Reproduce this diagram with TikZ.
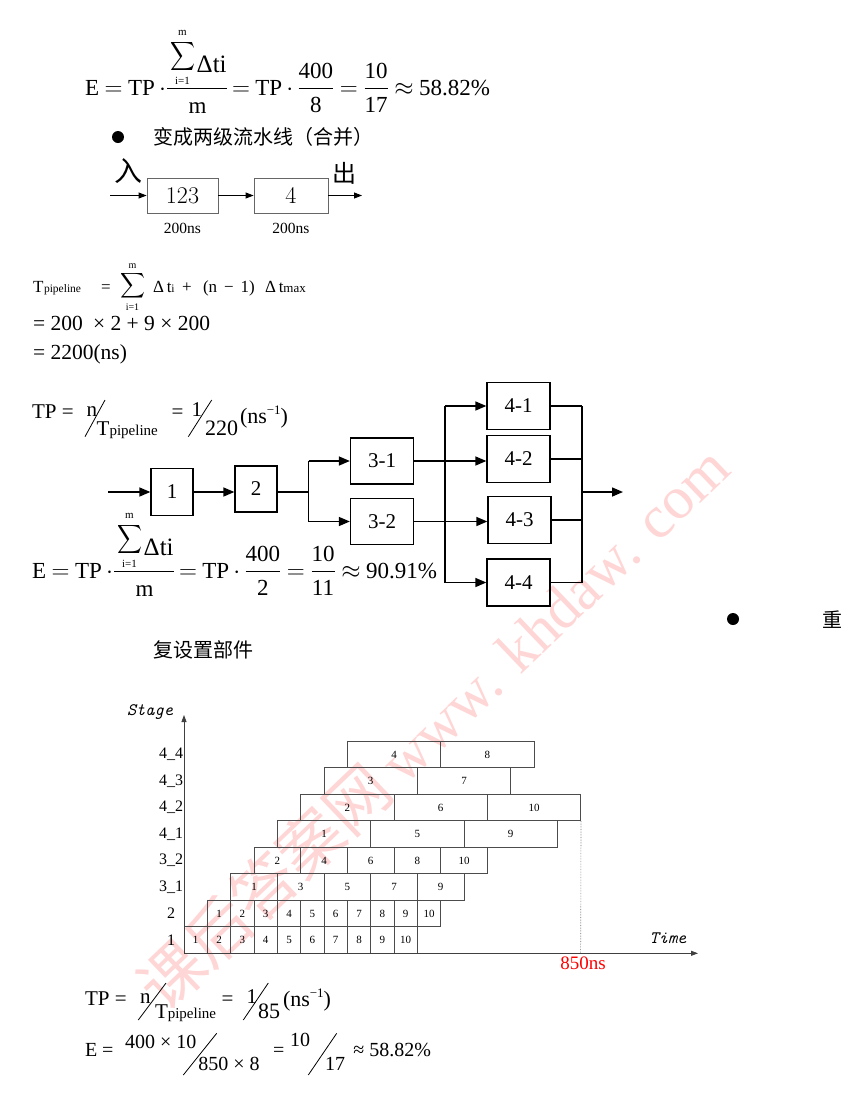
\documentclass[tikz,border=0pt]{standalone}
\usepackage{amsmath}
\usepackage{exscale}
\usepackage{graphicx}
\usepackage{fontspec}
\setmainfont{Liberation Serif}
\newfontfamily\cjk{Noto Sans CJK SC}
\usetikzlibrary{arrows.meta,positioning,calc}

\newcommand{\fsz}[1]{\fontsize{#1}{#1}\selectfont}
\newcommand{\lmdigits}{\fontfamily{lmr}\selectfont}
\newcommand{\ttslant}{\fontfamily{lmtt}\itshape}
\newcommand{\tightmath}{\thickmuskip=4mu\medmuskip=3mu}
\newcommand{\bigsigma}[2]{\resizebox*{#1}{#2}{$\displaystyle\sum$}}

\tikzset{
  formula/.style={anchor=base west, inner sep=0pt, outer sep=0pt},
  effform/.style={formula, font=\fsz{23}\tightmath},
  tlform/.style={formula, font=\fsz{17}},
  tlsmall/.style={formula, font=\fsz{11.5}},
  tform/.style={formula, font=\fsz{21.5}},
  tpform/.style={formula, font=\fsz{21}},
  limtxt/.style={inner sep=0pt, font=\fsz{11}},
  slashline/.style={line width=0.8pt},
  fracbar/.style={line width=0.8pt},
  cjktext/.style={anchor=west, inner sep=0pt, font=\cjk\fsz{20}},
  bulletdot/.style={circle, fill, inner sep=0pt, minimum size=12pt},
  twobox/.style={draw=black!60, line width=0.8pt, minimum height=35pt, inner sep=0pt, font=\lmdigits\fsz{24}},
  nslbl/.style={inner sep=0pt, font=\fsz{15.5}},
  thinarrow/.style={line width=0.9pt, -{Triangle[length=8pt,width=6pt]}},
  pipebox/.style={draw, line width=1.3pt, inner sep=0pt, minimum width=63pt, minimum height=47pt, font=\fsz{21}},
  busline/.style={line width=1.5pt},
  busarrow/.style={busline, -{Triangle[length=11pt,width=9pt]}},
  slot/.style={draw=black!70, line width=0.7pt, inner sep=0pt, minimum height=26.5pt, font=\fsz{11}},
  stagelbl/.style={inner sep=0pt, font=\fsz{16}},
  axisline/.style={draw=black!75, line width=0.8pt, -{Triangle[length=7pt,width=5pt]}},
  axislbl/.style={inner sep=0pt, font=\ttslant\fsz{17.5}},
  watermark/.style={anchor=base west, inner sep=0pt, text=red!16, font=\cjk\fsz{64}}
}

\begin{document}
\begin{tikzpicture}[x=1pt, y=-1pt, >=Stealth]

\useasboundingbox[fill=white] (0,0) rectangle (856,1098);

% ---------------------------------------------------------------------------
% Watermark (behind everything)
% ---------------------------------------------------------------------------
\node[watermark, rotate=43.7] (wmark) at (165,1015)
  {课后答案网\,{\rmfamily\fsz{60}www. khdaw. com}};

% ---------------------------------------------------------------------------
% Efficiency, four stages
% ---------------------------------------------------------------------------
\begin{scope}[shift={(85,95)}]
  \node[effform] (effTopE) at (0,0) {$\text{E} = \text{TP}\cdot{}$};
  \node[inner sep=0pt] (effTopSig) at (97.5,-39) {\bigsigma{25pt}{32pt}};
  \node[limtxt] (effTopUp) at (97.5,-62) {m};
  \node[limtxt] (effTopLo) at (97.5,-14) {i=1};
  \node[formula, font=\fsz{25}] (effTopNum) at (111.7,-23) {Δti};
  \draw[fracbar] (82,-7) -- (142,-7);
  \node[inner sep=0pt, anchor=base, font=\fsz{23}] (effTopDen) at (112.5,18) {m};
  \node[effform] (effTopR) at (147,0)
    {$= \text{TP}\cdot\dfrac{\text{400}}{\text{8}} = \dfrac{\text{10}}{\text{17}} \approx \text{58.82\%}$};
\end{scope}

\node[bulletdot] (bulA) at (118,137) {};
\node[cjktext] (mergeTxt) at (153,137) {变成两级流水线（合并）};

% ---------------------------------------------------------------------------
% Two-stage pipeline
% ---------------------------------------------------------------------------
\node[twobox, minimum width=71pt] (sgA) at (182.5,195.5) {123};
\node[twobox, minimum width=74pt] (sgB) at (291,195.5) {4};
\coordinate (inA) at (110,195.5);
\coordinate (outA) at (362,195.5);
\draw[thinarrow] (inA) -- (sgA);
\draw[thinarrow] (sgA) -- (sgB);
\draw[thinarrow] (sgB) -- (outA);
\node[nslbl, below=10pt of sgA] (nsA) {200ns};
\node[nslbl, below=10pt of sgB] (nsB) {200ns};
\node[inner sep=0pt, font=\cjk\fsz{28}] (ruTxt) at (128.5,171.5) {入};
\node[inner sep=0pt, font=\cjk\fsz{24}] (chuTxt) at (344,173) {出};

% ---------------------------------------------------------------------------
% Pipeline time
% ---------------------------------------------------------------------------
\node[tlform] (tlT) at (33,292) {T};
\node[tlsmall] (tlSub) at (44,292) {pipeline};
\node[tlform] (tlEq) at (101,292) {=};
\node[inner sep=0pt] (tlSig) at (132.5,285.5) {\bigsigma{25pt}{28pt}};
\node[limtxt, font=\fsz{10}] (tlUp) at (132.5,266) {m};
\node[limtxt, font=\fsz{10}] (tlLo) at (132.5,307.5) {i=1};
\node[tlform] (tlD1) at (153,292) {Δ\,t{\fsz{11.5}i}};
\node[tlform] (tlPlus) at (182,292) {+};
\node[tlform] (tlPar) at (203,292) {(n\hspace{7pt}−\hspace{7pt}1)};
\node[tlform] (tlD2) at (265,292) {Δ\,t{\fsz{13}max}};
\node[tform] (tpLine2) at (33,330) {= 200\hspace{5pt} × 2 + 9 × 200};
\node[tform] (tpLine3) at (33,359) {= 2200(ns)};

% ---------------------------------------------------------------------------
% Throughput, two stages
% ---------------------------------------------------------------------------
\node[tpform] (tpMidA) at (32,418) {TP =};
\node[tpform] (tpMidN) at (86.7,416) {n};
\draw[slashline] (85,436.7) -- (105,400);
\node[tpform] (tpMidD) at (96.7,435) {T{\fsz{15}pipeline}};
\node[tpform] (tpMidEq) at (171.7,418) {=};
\node[tpform] (tpMidO) at (191.7,416) {1};
\draw[slashline] (188.3,436.7) -- (211.7,400);
\node[tpform, font=\fsz{22}] (tpMidR) at (205,435) {220};
\node[tpform, font=\fsz{22}] (tpMidU) at (240,423.3) {(ns{\fsz{13}\raisebox{9pt}{−1}})};

% ---------------------------------------------------------------------------
% Reconfigured pipeline
% ---------------------------------------------------------------------------
\node[pipebox, minimum width=42pt] (pA) at (172,492) {1};
\node[pipebox, minimum width=42pt, minimum height=46pt] (pB) at (256,489) {2};
\node[pipebox, minimum height=46pt] (pC1) at (382,461) {3-1};
\node[pipebox, minimum height=46pt] (pC2) at (382,521.5) {3-2};
\node[pipebox] (pD1) at (518.5,406) {4-1};
\node[pipebox] (pD2) at (518.5,459) {4-2};
\node[pipebox] (pD3) at (519.5,520) {4-3};
\node[pipebox] (pD4) at (518.5,582.5) {4-4};

\coordinate (inB) at (108,492);
\coordinate (forkB) at (308.7,492);
\coordinate (busL) at (445,492);
\coordinate (busR) at (581.8,492);
\coordinate (outB) at (623,492);

\draw[busarrow] (inB) -- (pA.west);
\draw[busarrow] (pA.east) -- (pA.east -| pB.west);
\draw[busline] (pA.east -| pB.east) -- (forkB);
\draw[busline] (forkB |- pC1) -- (forkB |- pC2);
\draw[busarrow] (forkB |- pC1) -- (pC1.west);
\draw[busarrow] (forkB |- pC2) -- (pC2.west);
\draw[busline] (busL |- pD1) -- (busL |- pD4);
\draw[busarrow] (busL |- pD1) -- (pD1.west);
\draw[busarrow] (busL |- pD4) -- (pD4.west);
\draw[busarrow] (pC1.east) -- (pC1.east -| pD2.west);
\draw[busarrow] (pC2.east) -- (pC2.east -| pD3.west);
\foreach \d in {pD1,pD2,pD3,pD4}
  \draw[busline] (\d.east) -- (\d.east -| busR);
\draw[busline] (busR |- pD1) -- (busR |- pD4);
\draw[busarrow] (busR) -- (outB);

% ---------------------------------------------------------------------------
% Efficiency, two stages
% ---------------------------------------------------------------------------
\begin{scope}[shift={(32,578)}]
  \node[effform] (effMidE) at (0,0) {$\text{E} = \text{TP}\cdot{}$};
  \node[inner sep=0pt] (effMidSig) at (97.5,-39) {\bigsigma{25pt}{32pt}};
  \node[limtxt] (effMidUp) at (97.5,-62) {m};
  \node[limtxt] (effMidLo) at (97.5,-14) {i=1};
  \node[formula, font=\fsz{25}] (effMidNum) at (111.7,-23) {Δti};
  \draw[fracbar] (82,-7) -- (142,-7);
  \node[inner sep=0pt, anchor=base, font=\fsz{23}] (effMidDen) at (112.5,18) {m};
  \node[effform] (effMidR) at (147,0)
    {$= \text{TP}\cdot\dfrac{\text{400}}{\text{2}} = \dfrac{\text{10}}{\text{11}} \approx \text{90.91\%}$};
\end{scope}

\node[bulletdot] (bulB) at (733,619) {};
\node[inner sep=0pt, font=\cjk\fsz{20}] (zhongTxt) at (832,620) {重};
\node[cjktext] (repTxt) at (153,650) {复设置部件};

% ---------------------------------------------------------------------------
% Space-time chart
% ---------------------------------------------------------------------------
\coordinate (gOrigin) at (184,953.3);
\coordinate (gTop) at (184,715);
\coordinate (gRight) at (698,953.3);
\coordinate (gEnd) at (580.67,953.3);

\foreach \row/\len/\jobs/\lbl in {0/1/{1,2,3,4,5,6,7,8,9,10}/1, 1/1/{1,2,3,4,5,6,7,8,9,10}/2,
    2/2/{1,3,5,7,9}/3\_1, 3/2/{2,4,6,8,10}/3\_2, 4/4/{1,5,9}/4\_1,
    5/4/{2,6,10}/4\_2, 6/4/{3,7}/4\_3, 7/4/{4,8}/4\_4} {
  \node[stagelbl] (lbl\row) at (171,{953.3-(\row+0.5)*26.5}) {\lbl};
  \foreach \j [count=\k from 0] in \jobs {
    \node[slot, minimum width={\len*23.333pt}] (g\row-\j)
      at ({184+(\row+(\k+0.5)*\len)*23.333},{953.3-(\row+0.5)*26.5}) {\j};
  }
}

\draw[axisline] (gOrigin) -- (gTop);
\draw[axisline] (gOrigin) -- (gRight);
\draw[black!55, densely dotted, line width=0.6pt] (g5-10.south east) -- (gEnd);

\node[axislbl] (stageTxt) at (150,712) {Stage};
\node[axislbl] (timeTxt) at (668,938) {Time};
\node[inner sep=0pt, font=\fsz{19}, text=red] (endTxt) at (583,963) {850ns};

% ---------------------------------------------------------------------------
% Throughput and efficiency, reconfigured
% ---------------------------------------------------------------------------
\node[tpform] (tpBotA) at (85,1005) {TP =};
\node[tpform] (tpBotN) at (140,1003) {n};
\draw[slashline] (138.3,1020) -- (166,983);
\node[tpform] (tpBotD) at (155,1018.3) {T{\fsz{15}pipeline}};
\node[tpform] (tpBotEq) at (221.7,1005) {=};
\node[tpform] (tpBotO) at (246.7,1003) {1};
\draw[slashline] (243.3,1020) -- (268.3,983);
\node[tpform, font=\fsz{22}] (tpBotR) at (258,1018.3) {85};
\node[tpform, font=\fsz{22}] (tpBotU) at (283,1006.7) {(ns{\fsz{13}\raisebox{9pt}{−1}})};

\node[tpform, font=\fsz{20}] (effBotA) at (85,1056.7) {E =};
\node[tpform, font=\fsz{20}] (effBotN) at (125,1048.3) {400 × 10};
\draw[slashline] (183.3,1075) -- (216.7,1033.3);
\node[tpform, font=\fsz{20}] (effBotD) at (198.3,1070) {850 × 8};
\node[tpform, font=\fsz{20}] (effBotEq) at (273,1056.7) {=};
\node[tpform, font=\fsz{20}] (effBotN2) at (290,1046.7) {10};
\draw[slashline] (308.3,1075) -- (336.7,1033.3);
\node[tpform, font=\fsz{20}] (effBotD2) at (325,1070) {17};
\node[tpform, font=\fsz{20}] (effBotR) at (353.3,1056.7) {≈ 58.82\%};

\end{tikzpicture}
\end{document}
